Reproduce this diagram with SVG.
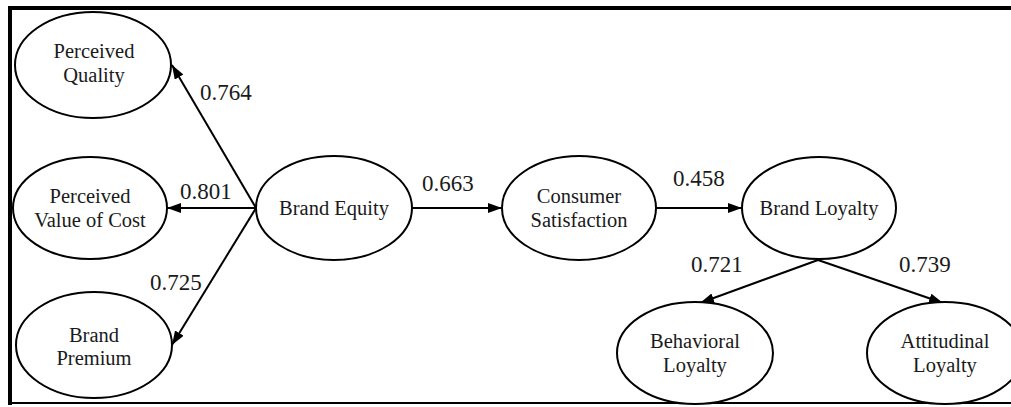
<svg xmlns="http://www.w3.org/2000/svg" width="1011" height="407" viewBox="0 0 1011 407">
<style>
.n ellipse{fill:#fff;stroke:#000;stroke-width:2}
.n text{font-family:'Liberation Serif','DejaVu Serif',serif;font-size:20.5px;text-anchor:middle;fill:#1a1a1a}
.lbl{font-family:'Liberation Serif','DejaVu Serif',serif;font-size:23px;fill:#1a1a1a}
.c line{stroke:#000;stroke-width:2;marker-end:url(#ah)}
</style>
<defs>
<marker id="ah" markerUnits="userSpaceOnUse" markerWidth="15" markerHeight="11" refX="14" refY="5" orient="auto">
<path d="M0,0 L14,5 L0,10 z" fill="#000"/>
</marker>
</defs>
<rect width="1011" height="407" fill="#fff"/>
<g id="frame">
<rect x="8" y="6" width="1003" height="4" fill="#000"/>
<rect x="8" y="6" width="4" height="399" fill="#000"/>
<rect x="8" y="402" width="1003" height="2" fill="#000"/>
</g>
<g class="c" id="connectors">
<line x1="256" y1="208" x2="172" y2="65"/>
<line x1="256" y1="208" x2="167" y2="208"/>
<line x1="256" y1="208" x2="172" y2="345"/>
<line x1="412" y1="208" x2="502" y2="208"/>
<line x1="656" y1="208" x2="742" y2="208"/>
<line x1="818" y1="260" x2="700" y2="303"/>
<line x1="818" y1="260" x2="943" y2="303"/>
</g>
<g id="labels">
<text class="lbl" font-family="Liberation Serif, serif" x="200" y="100">0.764</text>
<text class="lbl" font-family="Liberation Serif, serif" x="180" y="199">0.801</text>
<text class="lbl" font-family="Liberation Serif, serif" x="150" y="290">0.725</text>
<text class="lbl" font-family="Liberation Serif, serif" x="422" y="191">0.663</text>
<text class="lbl" font-family="Liberation Serif, serif" x="673" y="186">0.458</text>
<text class="lbl" font-family="Liberation Serif, serif" x="691" y="272">0.721</text>
<text class="lbl" font-family="Liberation Serif, serif" x="899" y="272">0.739</text>
</g>
<g class="n" id="perceived-quality">
<ellipse cx="93" cy="65" rx="78" ry="53"/>
<text x="94" y="58">Perceived</text>
<text x="94" y="82">Quality</text>
</g>
<g class="n" id="perceived-value">
<ellipse cx="90" cy="208" rx="77" ry="51"/>
<text x="90" y="203">Perceived</text>
<text x="90" y="227">Value of Cost</text>
</g>
<g class="n" id="brand-premium">
<ellipse cx="94" cy="345" rx="78" ry="53"/>
<text x="94" y="342">Brand</text>
<text x="94" y="365">Premium</text>
</g>
<g class="n" id="brand-equity">
<ellipse cx="334" cy="208" rx="78" ry="52"/>
<text x="334" y="215">Brand Equity</text>
</g>
<g class="n" id="consumer-satisfaction">
<ellipse cx="579" cy="208" rx="77" ry="52"/>
<text x="579" y="203">Consumer</text>
<text x="579" y="227">Satisfaction</text>
</g>
<g class="n" id="brand-loyalty">
<ellipse cx="819" cy="208" rx="77" ry="51"/>
<text x="819" y="215">Brand Loyalty</text>
</g>
<g class="n" id="behavioral-loyalty">
<ellipse cx="695" cy="353" rx="78" ry="51"/>
<text x="695" y="348">Behavioral</text>
<text x="695" y="372">Loyalty</text>
</g>
<g class="n" id="attitudinal-loyalty">
<ellipse cx="945" cy="353" rx="78" ry="51"/>
<text x="945" y="348">Attitudinal</text>
<text x="945" y="372">Loyalty</text>
</g>
</svg>
